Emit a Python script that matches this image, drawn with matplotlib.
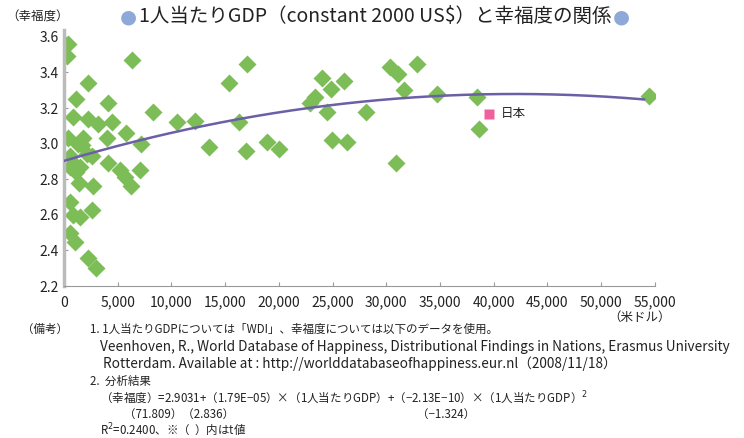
import matplotlib.pyplot as plt
import numpy as np

plt.rcParams['font.family'] = ['Noto Sans CJK JP', 'DejaVu Sans']

# per-capita GDP (constant 2000 US$) and happiness
gdp = [370, 280, 6330, 2240, 1120, 4100, 840, 2240, 3170, 4470, 5770, 370, 1770, 4000, 560, 7170,
       2140, 560, 1120, 1400, 2700, 4100, 5210, 5680, 6240, 7080, 560, 840, 1490, 2610, 560, 1020,
       2240, 2980, 1680, 2610, 1020, 1490, 1300,
       17040, 15360, 8290, 10520, 12200, 16300, 13500, 16950, 18900,
       24020, 24860, 26070, 23370, 22900, 24490, 28120, 24950, 26350, 20020,
       30350, 31100, 32870, 31660, 30910,
       34730, 38450, 38640, 54500]
happiness = [3.56, 3.49, 3.47, 3.34, 3.25, 3.23, 3.15, 3.14, 3.11, 3.12, 3.06, 3.03, 3.03, 3.03, 2.93, 3.00,
             2.94, 2.87, 2.84, 2.78, 2.76, 2.89, 2.85, 2.81, 2.76, 2.85, 2.67, 2.60, 2.59, 2.63, 2.50, 2.45,
             2.36, 2.30, 2.99, 2.93, 2.88, 2.87, 3.00,
             3.45, 3.34, 3.18, 3.12, 3.13, 3.12, 2.98, 2.96, 3.01,
             3.37, 3.31, 3.35, 3.26, 3.23, 3.18, 3.18, 3.02, 3.01, 2.97,
             3.43, 3.39, 3.45, 3.30, 2.89,
             3.28, 3.26, 3.08, 3.27]
japan_gdp = 39570
japan_happiness = 3.167

# regression coefficients from the note
coef = [2.9031, 1.79e-05, -2.13e-10]
curve_end = 54000

fig = plt.figure(figsize=(7.44, 4.38), dpi=100)
ax = fig.add_axes([0.086, 0.347, 0.794, 0.585])

xs = np.linspace(0, curve_end, 200)
ax.plot(xs, coef[0] + coef[1] * xs + coef[2] * xs ** 2, color='#6b5fa6', lw=1.8, zorder=3)
ax.plot(gdp, happiness, 'D', color='#7dbd58', ms=9.5, mec='none', zorder=2)
ax.plot([japan_gdp], [japan_happiness], 's', color='#f0609c', ms=7, mec='none', zorder=4)
ax.text(japan_gdp + 1100, japan_happiness, '日本', fontsize=9, va='center', color='#222222')

ax.set_xlim(0, 55000)
ax.set_ylim(2.2, 3.64)
ax.set_xticks(np.arange(0, 55001, 5000))
ax.set_xticklabels([f'{v:,}' for v in range(0, 55001, 5000)])
ax.set_yticks(np.arange(2.2, 3.61, 0.2))
ax.set_yticklabels([f'{v:.1f}' for v in np.arange(2.2, 3.61, 0.2)])
ax.tick_params(direction='in', length=3, color='#999999', labelsize=10, labelcolor='#222222')
ax.tick_params(axis='x', pad=7)
for s in ['top', 'right']:
    ax.spines[s].set_visible(False)
ax.spines['left'].set_color('#bbbbbb')
ax.spines['left'].set_linewidth(2.5)
ax.spines['bottom'].set_color('#999999')
ax.spines['bottom'].set_linewidth(0.8)

fig.text(0.008, 0.962, '（幸福度）', fontsize=9, color='#222222', va='center')
fig.text(0.818, 0.276, '（米ドル）', fontsize=9, color='#222222', va='center')

# title with blue dots on both sides
title = fig.text(0.504, 0.962, '1人当たりGDP（constant 2000 US$）と幸福度の関係', fontsize=14,
                 ha='center', va='center', color='#222222')
fig.canvas.draw()
bb = title.get_window_extent().transformed(fig.transFigure.inverted())
fig.text(bb.x0 - 0.002, 0.962, '●', fontsize=14, color='#8ea9d8', ha='right', va='center',
         family=['DejaVu Sans'])
fig.text(bb.x1 + 0.002, 0.962, '●', fontsize=14, color='#8ea9d8', ha='left', va='center',
         family=['DejaVu Sans'])

notes = [
    (0.030, 0.247, '（備考）', 8.3),
    (0.121, 0.247, '1. 1人当たりGDPについては「WDI」、幸福度については以下のデータを使用。', 8.3),
    (0.134, 0.207, 'Veenhoven, R., World Database of Happiness, Distributional Findings in Nations, Erasmus University', 9.8),
    (0.138, 0.169, 'Rotterdam. Available at : http://worlddatabaseofhappiness.eur.nl（2008/11/18）', 9.8),
    (0.121, 0.130, '2.  分析結果', 8.3),
    (0.134, 0.092, '（幸福度）=2.9031+（1.79E−05）×（1人当たりGDP）+（−2.13E−10）×（1人当たりGDP）$^2$', 8.3),
    (0.166, 0.055, '（71.809）（2.836）', 8.3),
    (0.560, 0.055, '（−1.324）', 8.3),
    (0.134, 0.020, 'R$^2$=0.2400、※（  ）内はt値', 8.3),
]
for x, y, t, fs in notes:
    fig.text(x, y, t, fontsize=fs, color='#222222', va='center')

fig.savefig('out.png', dpi=100)
